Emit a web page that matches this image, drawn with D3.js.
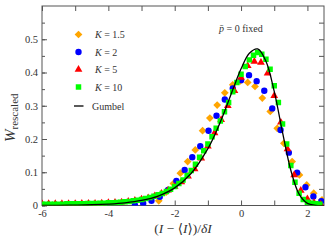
<!DOCTYPE html>
<html lang="en">
<head>
  <meta charset="UTF-8" />
  <title>W rescaled</title>
  <script src="https://d3js.org/d3.v7.min.js"></script>
  <style>
    body { margin: 0; background: #fff; }
    svg text { font-family: 'Liberation Serif', 'DejaVu Serif', serif; fill: #333; }
  </style>
</head>
<body>
  <div id="chart"></div>
  <script>
    // K = 1.5 (orange diamonds)
    const k15X = [-2.48, -2.26, -2.04, -1.83, -1.61, -1.38, -1.16, -0.94, -0.72, -0.49, -0.25, -0.02, 0.2, 0.42, 0.64, 0.88, 1.09, 1.29, 1.54, 1.76, 1.98, 2.19, 2.44];
    const k15Y = [0.014, 0.04, 0.066, 0.097, 0.132, 0.167, 0.225, 0.263, 0.302, 0.339, 0.363, 0.375, 0.37, 0.358, 0.323, 0.283, 0.232, 0.187, 0.132, 0.092, 0.062, 0.037, 0.017];
    // K = 2 (blue circles)
    const k2X = [-3.2, -2.95, -2.7, -2.45, -2.2, -1.95, -1.7, -1.47, -1.23, -0.98, -0.74, -0.49, -0.25, 0.0, 0.24, 0.47, 0.7, 0.94, 1.19, 1.44, 1.69, 1.94, 2.18, 2.42];
    const k2Y = [0.001, 0.006, 0.014, 0.026, 0.047, 0.074, 0.107, 0.145, 0.178, 0.225, 0.27, 0.319, 0.352, 0.377, 0.392, 0.374, 0.345, 0.292, 0.227, 0.159, 0.099, 0.055, 0.027, 0.013];
    // K = 5 (red triangles)
    const k5X = [-6.0, -5.8, -5.6, -5.4, -5.2, -5.0, -4.8, -4.6, -4.4, -4.2, -4.0, -3.8, -3.6, -3.4, -3.2, -3.0, -2.8, -2.6, -2.4, -2.2, -2.0, -1.8, -1.6, -1.4, -1.2, -1.0, -0.8, -0.6, -0.4, -0.2, 0.0, 0.2, 0.4, 0.6, 0.8, 1.0, 1.2, 1.4, 1.6, 1.8, 2.0, 2.2, 2.4];
    const k5Y = [0.005, 0.005, 0.005, 0.005, 0.005, 0.005, 0.006, 0.006, 0.006, 0.007, 0.008, 0.009, 0.01, 0.012, 0.015, 0.019, 0.023, 0.029, 0.036, 0.046, 0.057, 0.071, 0.088, 0.11, 0.142, 0.178, 0.218, 0.258, 0.3, 0.345, 0.385, 0.42, 0.433, 0.43, 0.398, 0.33, 0.25, 0.17, 0.092, 0.045, 0.02, 0.008, 0.004];
    // K = 10 (green squares)
    const k10X = [-6.0, -5.875, -5.75, -5.625, -5.5, -5.375, -5.25, -5.125, -5.0, -4.875, -4.75, -4.625, -4.5, -4.375, -4.25, -4.125, -4.0, -3.875, -3.75, -3.625, -3.5, -3.375, -3.25, -3.125, -3.0, -2.875, -2.75, -2.625, -2.5, -2.375, -2.25, -2.125, -2.0, -1.875, -1.75, -1.625, -1.5, -1.375, -1.25, -1.125, -1.0, -0.875, -0.75, -0.625, -0.5, -0.375, -0.25, -0.125, 0.0, 0.125, 0.25, 0.375, 0.5, 0.625, 0.75, 0.875, 1.0, 1.125, 1.25, 1.375, 1.5, 1.625, 1.75, 1.875, 2.0, 2.125, 2.25, 2.375];
    const k10Y = [0.004, 0.004, 0.004, 0.004, 0.004, 0.004, 0.005, 0.005, 0.005, 0.005, 0.005, 0.006, 0.006, 0.006, 0.007, 0.007, 0.008, 0.008, 0.009, 0.01, 0.011, 0.012, 0.014, 0.016, 0.018, 0.021, 0.024, 0.028, 0.032, 0.036, 0.042, 0.049, 0.057, 0.066, 0.077, 0.09, 0.105, 0.124, 0.145, 0.165, 0.185, 0.207, 0.232, 0.254, 0.282, 0.31, 0.342, 0.37, 0.395, 0.418, 0.438, 0.452, 0.46, 0.455, 0.44, 0.41, 0.36, 0.31, 0.245, 0.185, 0.12, 0.07, 0.037, 0.018, 0.01, 0.007, 0.005, 0.004];
    // Gumbel curve
    const gumbelX = [-6, -5.5, -5, -4.5, -4, -3.5, -3, -2.5, -2, -1.5, -1, -0.75, -0.5, -0.25, 0, 0.25, 0.5, 0.75, 1, 1.25, 1.5, 1.75, 2, 2.25, 2.5];
    const gumbelY = [0.0003, 0.0006, 0.0012, 0.0022, 0.0043, 0.008, 0.0152, 0.0285, 0.053, 0.097, 0.171, 0.222, 0.282, 0.348, 0.411, 0.458, 0.471, 0.434, 0.343, 0.22, 0.106, 0.034, 0.0063, 0.0006, 0.0];

    const xTicks = [-6, -4, -2, 0, 2];
    const yTicks = [0, 0.1, 0.2, 0.3, 0.4, 0.5];

    const width = 332, height = 241;
    const margin = { top: 6, right: 8, bottom: 35.5, left: 42 };
    const iw = width - margin.left - margin.right;
    const ih = height - margin.top - margin.bottom;

    const x = d3.scaleLinear().domain([-6, 2.5]).range([0, iw]);
    const y = d3.scaleLinear().domain([0, 0.6]).range([ih, 0]);

    const svg = d3.select("#chart").append("svg")
      .attr("width", width).attr("height", height);
    const g = svg.append("g").attr("transform", `translate(${margin.left},${margin.top})`);

    g.append("clipPath").attr("id", "clip")
      .append("rect").attr("width", iw).attr("height", ih);

    const axisColor = "#555";

    // ticks, pointing inward
    g.append("g").attr("transform", `translate(0,${ih})`)
      .call(d3.axisBottom(x).tickValues(d3.range(-6, 3, 1)).tickSize(-5).tickFormat(d => xTicks.includes(d) ? d : "").tickPadding(4));
    g.append("g")
      .call(d3.axisTop(x).tickValues(d3.range(-6, 3, 1)).tickSize(-5).tickFormat(""));
    g.append("g")
      .call(d3.axisLeft(y).tickValues(d3.range(0, 0.6, 0.05)).tickSize(-3).tickFormat(""));
    g.append("g")
      .call(d3.axisLeft(y).tickValues(yTicks).tickSize(-5).tickFormat(d => d === 0 ? "0" : d3.format(".1f")(d)).tickPadding(4));
    g.append("g").attr("transform", `translate(${iw},0)`)
      .call(d3.axisRight(y).tickValues(d3.range(0.05, 0.6, 0.05)).tickSize(-5).tickFormat(""));

    g.selectAll(".domain").remove();
    g.selectAll(".tick line").attr("stroke", axisColor);
    g.selectAll(".tick text").style("font-size", "10.5px").attr("fill", "#333");

    g.append("rect").attr("width", iw).attr("height", ih)
      .attr("fill", "none").attr("stroke", axisColor).attr("stroke-width", 1);

    const plot = g.append("g").attr("clip-path", "url(#clip)");

    // diamond = square turned 45 degrees
    const series = [
      { xs: k15X, ys: k15Y, type: d3.symbolSquare, rot: 45, size: 30, color: "#ffa500", label: "1.5" },
      { xs: k2X, ys: k2Y, type: d3.symbolCircle, rot: 0, size: 32, color: "#0000ff", label: "2" },
      { xs: k5X, ys: k5Y, type: d3.symbolTriangle, rot: 0, size: 26, color: "#ff0000", label: "5" },
      { xs: k10X, ys: k10Y, type: d3.symbolSquare, rot: 0, size: 30, color: "#00ff00", label: "10" }
    ];

    series.forEach(s => {
      plot.append("g").selectAll("path")
        .data(s.xs.map((xv, i) => [xv, s.ys[i]]))
        .enter().append("path")
        .attr("transform", d => `translate(${x(d[0])},${y(d[1])}) rotate(${s.rot})`)
        .attr("d", d3.symbol().type(s.type).size(s.size))
        .attr("fill", s.color);
    });

    const line = d3.line()
      .x(d => x(d[0])).y(d => y(d[1]))
      .curve(d3.curveCatmullRom);
    plot.append("path")
      .datum(gumbelX.map((xv, i) => [xv, gumbelY[i]]))
      .attr("d", line)
      .attr("fill", "none")
      .attr("stroke", "#000")
      .attr("stroke-width", 1.3);

    // legend
    const leg = svg.append("g");
    const legY = [34.5, 52, 69.5, 87];
    series.forEach((s, i) => {
      leg.append("path")
        .attr("transform", `translate(78.5,${legY[i]}) rotate(${s.rot})`)
        .attr("d", d3.symbol().type(s.type).size(s.size))
        .attr("fill", s.color);
      const t = leg.append("text").attr("x", 95).attr("y", legY[i] + 3.5).style("font-size", "10px");
      t.append("tspan").style("font-style", "italic").text("K");
      t.append("tspan").text(" = " + s.label);
    });
    leg.append("line").attr("x1", 74).attr("x2", 83.5).attr("y1", 106).attr("y2", 106)
      .attr("stroke", "#000").attr("stroke-width", 1.3);
    leg.append("text").attr("x", 92).attr("y", 109.5).style("font-size", "10px").text("Gumbel");

    // annotation
    const ann = svg.append("text").attr("x", 219).attr("y", 32).style("font-size", "10px");
    ann.append("tspan").style("font-style", "italic").text("p\u0304");
    ann.append("tspan").text(" = 0 fixed");

    // axis labels
    const xl = svg.append("text")
      .attr("x", margin.left + iw / 2).attr("y", 233)
      .attr("text-anchor", "middle").style("font-size", "13.5px");
    xl.append("tspan").text("(");
    xl.append("tspan").style("font-style", "italic").text("I");
    xl.append("tspan").text(" \u2212 \u27e8");
    xl.append("tspan").style("font-style", "italic").text("I");
    xl.append("tspan").text("\u27e9)/");
    xl.append("tspan").style("font-style", "italic").text("\u03b4I");

    const yl = svg.append("text")
      .attr("transform", `translate(15,${margin.top + ih / 2 + 12}) rotate(-90)`)
      .attr("text-anchor", "middle");
    yl.append("tspan").style("font-style", "italic").style("font-size", "15px").text("W");
    yl.append("tspan").attr("dy", 3).style("font-size", "11px").text("rescaled");
  </script>
</body>
</html>
